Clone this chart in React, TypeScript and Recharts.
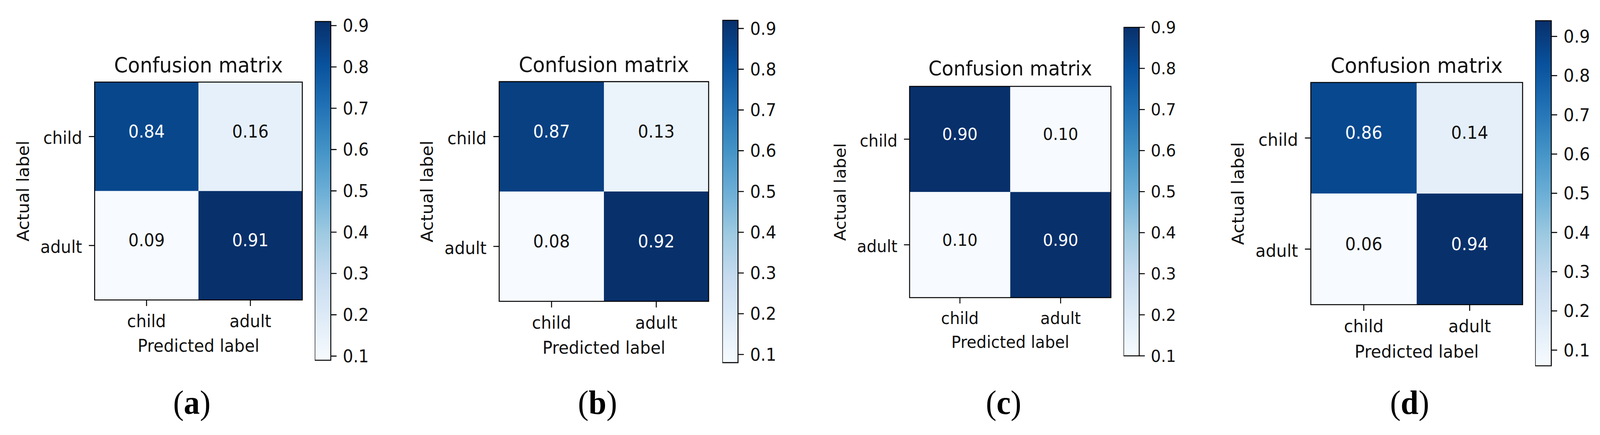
import React from 'react';
import { ComposedChart, XAxis, YAxis, Scatter, ReferenceArea, Label } from 'recharts';

// ---------------- data ----------------
const classLabels = ['child', 'adult'];
const panelLetters = ['a', 'b', 'c', 'd'];
const matrixA = [
  [0.84, 0.16],
  [0.09, 0.91],
];
const matrixB = [
  [0.87, 0.13],
  [0.08, 0.92],
];
const matrixC = [
  [0.9, 0.1],
  [0.1, 0.9],
];
const matrixD = [
  [0.86, 0.14],
  [0.06, 0.94],
];
const matrices = [matrixA, matrixB, matrixC, matrixD];
const colorbarTicks = [0.1, 0.2, 0.3, 0.4, 0.5, 0.6, 0.7, 0.8, 0.9];
const chartTitle = 'Confusion matrix';
const xAxisTitle = 'Predicted label';
const yAxisTitle = 'Actual label';

// ---------------- styles / layout ----------------
const BLUES = ['#f7fbff', '#deebf7', '#c6dbef', '#9ecae1', '#6baed6', '#4292c6', '#2171b5', '#08519c', '#08306b'];

const layouts = [
  { boxLeft: 253.5, boxTop: 210, boxSize: 557.5, titleGap: 24.5, cb: { left: 845, right: 888, top: 55.3, bottom: 922 }, tagX: 515 },
  { boxLeft: 1340.5, boxTop: 209.2, boxSize: 562.2, titleGap: 25, cb: { left: 1938.5, right: 1980.6, top: 51.8, bottom: 927.7 }, tagX: 1604 },
  { boxLeft: 2441.3, boxTop: 220.6, boxSize: 540.5, titleGap: 27.5, cb: { left: 3015.5, right: 3057.6, top: 69.5, bottom: 910 }, tagX: 2694 },
  { boxLeft: 3519, boxTop: 210.5, boxSize: 568.5, titleGap: 24.5, cb: { left: 4120.5, right: 4163.7, top: 53.2, bottom: 936.2 }, tagX: 3784 },
];

// the photographed page is 4096 px wide; squeeze the 4295 px design into it
const PAGE_W = 4295;
const SHOT_W = 4096;
const PAGE_H = 1113;

const BASE = 557.5;
const INK = '#111';

function hexToRgb(h: string) {
  return [parseInt(h.slice(1, 3), 16), parseInt(h.slice(3, 5), 16), parseInt(h.slice(5, 7), 16)];
}
function blues(t: number) {
  const tt = Math.max(0, Math.min(1, t));
  const pos = tt * 8;
  const i = Math.min(7, Math.floor(pos));
  const f = pos - i;
  const a = hexToRgb(BLUES[i]);
  const b = hexToRgb(BLUES[i + 1]);
  const c = a.map((v, k) => Math.round(v + (b[k] - v) * f));
  return `rgb(${c[0]},${c[1]},${c[2]})`;
}

function MatrixPanel({ matrix, layout, idx }: any) {
  const s = layout.boxSize / BASE;
  const S = layout.boxSize;
  const padL = 240 * s;
  const padT = 100 * s;
  const padR = 10;
  const padB = 170 * s;
  const flat = matrix.flat();
  const vmin = Math.min(...flat);
  const vmax = Math.max(...flat);
  const thresh = (vmin + vmax) / 2;
  const cells: any[] = [];
  matrix.forEach((row: number[], r: number) =>
    row.forEach((v: number, c: number) => cells.push({ r, c, v, x: c + 0.5, y: r + 0.5 }))
  );
  const sw = 2.6 * s;
  const fs = 44 * s;
  const tickSize = 15.5 * s;

  const yTick = (p: any) => (
    <text x={p.x} y={p.y + 0.355 * fs + 3.5 * s} textAnchor="end" fontSize={fs} fill={INK}>
      {classLabels[Math.floor(p.payload.value)]}
    </text>
  );

  return (
    <div style={{ position: 'absolute', left: layout.boxLeft - padL, top: layout.boxTop - padT }}>
      <ComposedChart
        width={padL + S + padR}
        height={padT + S + padB}
        margin={{ top: padT, right: padR, bottom: 0, left: 0 }}
      >
        <XAxis
          type="number"
          dataKey="x"
          domain={[0, 2]}
          allowDataOverflow
          ticks={[0.5, 1.5]}
          interval={0}
          tickFormatter={(v: number) => classLabels[Math.floor(v)]}
          height={padB}
          axisLine={false}
          tickLine={{ stroke: '#000', strokeWidth: sw }}
          tickSize={tickSize}
          tickMargin={22.9 * s}
          tick={{ fontSize: fs, fill: INK }}
          label={
            <Label
              content={(p: any) => {
                const vb = p.viewBox || {};
                return (
                  <text x={vb.x + vb.width / 2} y={vb.y + 133 * s} textAnchor="middle" fontSize={fs} fill={INK}>
                    {xAxisTitle}
                  </text>
                );
              }}
            />
          }
        />
        <YAxis
          type="number"
          dataKey="y"
          domain={[0, 2]}
          allowDataOverflow
          reversed
          ticks={[0.5, 1.5]}
          interval={0}
          width={padL}
          axisLine={false}
          tickLine={{ stroke: '#000', strokeWidth: sw }}
          tickSize={tickSize}
          tickMargin={18 * s}
          tick={yTick}
          label={
            <Label
              content={(p: any) => {
                const vb = p.viewBox || {};
                const x = vb.x + vb.width - 176.5 * s;
                const y = vb.y + vb.height / 2;
                return (
                  <text x={x} y={y} transform={`rotate(-90, ${x}, ${y})`} textAnchor="middle" fontSize={fs} fill={INK}>
                    {yAxisTitle}
                  </text>
                );
              }}
            />
          }
        />
        {cells.map((cell) => (
          <ReferenceArea
            key={`cell-${idx}-${cell.r}-${cell.c}`}
            x1={cell.c}
            x2={cell.c + 1}
            y1={cell.r}
            y2={cell.r + 1}
            fill={blues((cell.v - vmin) / (vmax - vmin))}
            fillOpacity={1}
            stroke="none"
            label={
              <Label
                content={(p: any) => {
                  const vb = p.viewBox || {};
                  return (
                    <text
                      x={vb.x + vb.width / 2}
                      y={vb.y + vb.height / 2 + 2.3 * s}
                      textAnchor="middle"
                      fontSize={fs}
                      fill={cell.v > thresh ? '#ffffff' : INK}
                    >
                      {cell.v.toFixed(2)}
                    </text>
                  );
                }}
              />
            }
          />
        ))}
        <ReferenceArea
          x1={0}
          x2={2}
          y1={0}
          y2={2}
          fill="none"
          fillOpacity={0}
          stroke="#000"
          strokeWidth={sw}
          label={
            <Label
              content={(p: any) => {
                const vb = p.viewBox || {};
                return (
                  <text
                    x={vb.x + vb.width / 2}
                    y={vb.y - layout.titleGap}
                    textAnchor="middle"
                    fontSize={53 * s}
                    fill={INK}
                  >
                    {chartTitle}
                  </text>
                );
              }}
            />
          }
        />
        <Scatter data={cells} shape={() => <g />} isAnimationActive={false} legendType="none" />
      </ComposedChart>
    </div>
  );
}

function ColorbarPanel({ matrix, layout, idx }: any) {
  const s = layout.boxSize / BASE;
  const flat = matrix.flat();
  const vmin = Math.min(...flat);
  const vmax = Math.max(...flat);
  const cb = layout.cb;
  const w = cb.right - cb.left;
  const h = cb.bottom - cb.top;
  const padT = 30;
  const padB = 30;
  const padR = 110 * s;
  const sw = 2.6 * s;
  const gid = `blues-grad-${idx}`;
  return (
    <div style={{ position: 'absolute', left: cb.left, top: cb.top - padT }}>
      <ComposedChart width={w + padR} height={h + padT + padB} margin={{ top: padT, right: 0, bottom: padB, left: 0 }}>
        <defs>
          <linearGradient id={gid} x1="0" y1="1" x2="0" y2="0">
            {BLUES.map((c, i) => (
              <stop key={i} offset={i / (BLUES.length - 1)} stopColor={c} />
            ))}
          </linearGradient>
        </defs>
        <XAxis type="number" dataKey="x" domain={[0, 1]} allowDataOverflow hide />
        <YAxis
          type="number"
          dataKey="y"
          orientation="right"
          domain={[vmin, vmax]}
          allowDataOverflow
          ticks={colorbarTicks}
          interval={0}
          width={padR}
          axisLine={false}
          tickLine={{ stroke: '#000', strokeWidth: sw }}
          tickSize={15.5 * s}
          tickMargin={16.6 * s}
          tick={{ fontSize: 44 * s, fill: INK }}
          tickFormatter={(v: number) => v.toFixed(1)}
        />
        <ReferenceArea
          x1={0}
          x2={1}
          y1={vmin}
          y2={vmax}
          fill={`url(#${gid})`}
          fillOpacity={1}
          stroke="#000"
          strokeWidth={sw}
        />
        <Scatter
          data={[
            { x: 0, y: vmin },
            { x: 1, y: vmax },
          ]}
          shape={() => <g />}
          isAnimationActive={false}
          legendType="none"
        />
      </ComposedChart>
    </div>
  );
}

export default function App() {
  return (
    <div
      style={{
        position: 'absolute',
        left: 0,
        top: 0,
        width: SHOT_W,
        height: PAGE_H,
        overflow: 'hidden',
        background: '#ffffff',
      }}
    >
      <div
        style={{
          position: 'absolute',
          left: 0,
          top: 0,
          width: PAGE_W,
          height: PAGE_H,
          transform: `scaleX(${SHOT_W / PAGE_W})`,
          transformOrigin: '0 0',
          fontFamily: '"DejaVu Sans", sans-serif',
        }}
      >
        {matrices.map((m, i) => (
          <MatrixPanel key={`m${i}`} matrix={m} layout={layouts[i]} idx={i} />
        ))}
        {matrices.map((m, i) => (
          <ColorbarPanel key={`c${i}`} matrix={m} layout={layouts[i]} idx={i} />
        ))}
        <svg style={{ position: 'absolute', left: 0, top: 950 }} width={PAGE_W} height={163}>
          {panelLetters.map((l, i) => (
            <text
              key={l}
              x={layouts[i].tagX}
              y={1059 - 950}
              textAnchor="middle"
              fontFamily='"Liberation Serif", "Times New Roman", serif'
              fontSize={86}
              fill="#000"
            >
              (<tspan fontWeight="bold">{l}</tspan>)
            </text>
          ))}
        </svg>
      </div>
    </div>
  );
}
